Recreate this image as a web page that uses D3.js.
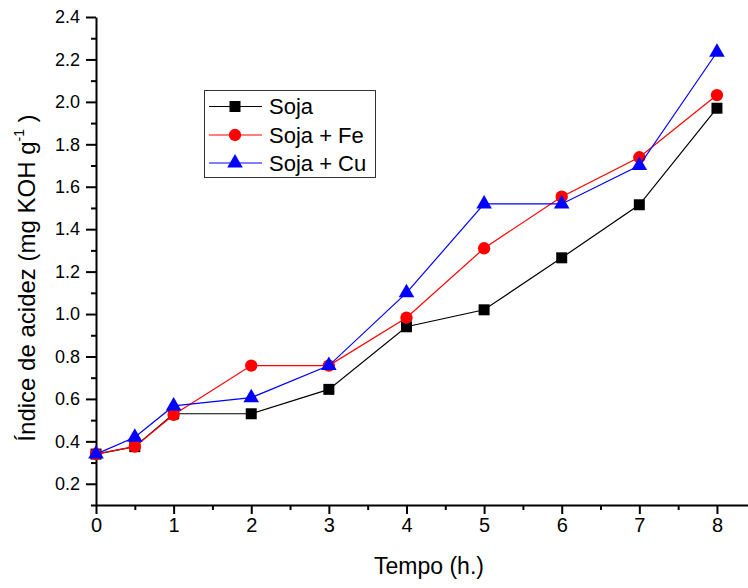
<!DOCTYPE html>
<html>
<head>
<meta charset="utf-8">
<script src="https://cdn.jsdelivr.net/npm/d3@7"></script>
<style>
  body { margin: 0; background: #fff; }
  svg { display: block; font-family: "Liberation Sans", Arial, sans-serif; }
</style>
</head>
<body>
<script>
// values
const times = [0, 0.5, 1, 2, 3, 4, 5, 6, 7, 8];
const soja = [0.34, 0.375, 0.53, 0.53, 0.645, 0.94, 1.02, 1.265, 1.515, 1.97];
const sojaFe = [0.34, 0.375, 0.525, 0.757, 0.757, 0.983, 1.31, 1.553, 1.739, 2.032];
const sojaCu = [0.34, 0.419, 0.567, 0.606, 0.757, 1.10, 1.519, 1.519, 1.70, 2.234];
const seriesNames = ["Soja", "Soja + Fe", "Soja + Cu"];
const xTicks = [0, 1, 2, 3, 4, 5, 6, 7, 8];
const yTicks = [0.2, 0.4, 0.6, 0.8, 1.0, 1.2, 1.4, 1.6, 1.8, 2.0, 2.2, 2.4];

const width = 748;
const height = 588;

const series = [
  {name: seriesNames[0], values: soja, color: "#000000", symbol: d3.symbolSquare, size: 121},
  {name: seriesNames[1], values: sojaFe, color: "#ff0000", symbol: d3.symbolCircle, size: 120},
  {name: seriesNames[2], values: sojaCu, color: "#0000ff", symbol: d3.symbolTriangle, size: 105}
];

const x = d3.scaleLinear().domain([0, 8.4]).range([96, 748]);
const y = d3.scaleLinear().domain([0.1, 2.4]).range([505, 17]);

const svg = d3.select("body").append("svg")
    .attr("width", width)
    .attr("height", height);

// minor ticks first, then major ticks with labels
const xMinor = d3.range(0.5, 8, 1);
const yMinor = d3.range(0.1, 2.35, 0.2);

svg.append("g")
    .attr("transform", `translate(0,${y(0.1)})`)
    .call(d3.axisBottom(x).tickValues(xMinor).tickSize(5).tickFormat(""))
    .call(g => g.select(".domain").remove())
    .call(g => g.selectAll("line").attr("stroke-width", 2));

svg.append("g")
    .attr("transform", `translate(${x(0)},0)`)
    .call(d3.axisLeft(y).tickValues(yMinor).tickSize(5).tickFormat(""))
    .call(g => g.select(".domain").remove())
    .call(g => g.selectAll("line").attr("stroke-width", 2));

const xAxis = svg.append("g")
    .attr("transform", `translate(0,${y(0.1)})`)
    .call(d3.axisBottom(x).tickValues(xTicks).tickSize(9).tickPadding(4).tickSizeOuter(0).tickFormat(d3.format("d")));
xAxis.select(".domain").attr("stroke-width", 2);
xAxis.selectAll("line").attr("stroke-width", 2);
xAxis.selectAll("text").attr("font-size", 20).attr("fill", "#000");

const yAxis = svg.append("g")
    .attr("transform", `translate(${x(0)},0)`)
    .call(d3.axisLeft(y).tickValues(yTicks).tickSize(10).tickPadding(6).tickSizeOuter(0).tickFormat(d3.format(".1f")));
yAxis.select(".domain").attr("stroke-width", 2);
yAxis.selectAll("line").attr("stroke-width", 2);
yAxis.selectAll("text").attr("font-size", 18).attr("fill", "#000");

// lines and markers
const line = d3.line()
    .x((d, i) => x(times[i]))
    .y(d => y(d));

series.forEach(s => {
  svg.append("path")
      .datum(s.values)
      .attr("fill", "none")
      .attr("stroke", s.color)
      .attr("stroke-width", 1.2)
      .attr("d", line);

  svg.append("g")
    .selectAll("path")
    .data(s.values)
    .join("path")
      .attr("transform", (d, i) => `translate(${x(times[i])},${y(d)})`)
      .attr("d", d3.symbol(s.symbol, s.size))
      .attr("fill", s.color);
});

// axis titles
svg.append("text")
    .attr("x", 429)
    .attr("y", 574)
    .attr("text-anchor", "middle")
    .attr("font-size", 23)
    .text("Tempo (h.)");

const yTitle = svg.append("text")
    .attr("transform", "translate(35,278) rotate(-90)")
    .attr("text-anchor", "middle")
    .attr("font-size", 24);
yTitle.append("tspan").text("Índice de acidez (mg KOH g");
yTitle.append("tspan").attr("font-size", 14).attr("dy", -11).text("-1");
yTitle.append("tspan").attr("dy", 11).text(" )");

// legend
const legend = svg.append("g");
legend.append("rect")
    .attr("x", 204.5)
    .attr("y", 90.5)
    .attr("width", 171)
    .attr("height", 87)
    .attr("fill", "#fff")
    .attr("stroke", "#333")
    .attr("stroke-width", 1);

const rowY = [106.5, 135, 163];
series.forEach((s, i) => {
  const row = legend.append("g").attr("transform", `translate(0,${rowY[i]})`);
  row.append("line")
      .attr("x1", 209).attr("x2", 262)
      .attr("stroke", s.color)
      .attr("stroke-width", 1.2);
  row.append("path")
      .attr("transform", "translate(235,0)")
      .attr("d", d3.symbol(s.symbol, s.size))
      .attr("fill", s.color);
  row.append("text")
      .attr("x", 269)
      .attr("dy", "0.35em")
      .attr("font-size", 22)
      .text(s.name);
});
</script>
</body>
</html>
